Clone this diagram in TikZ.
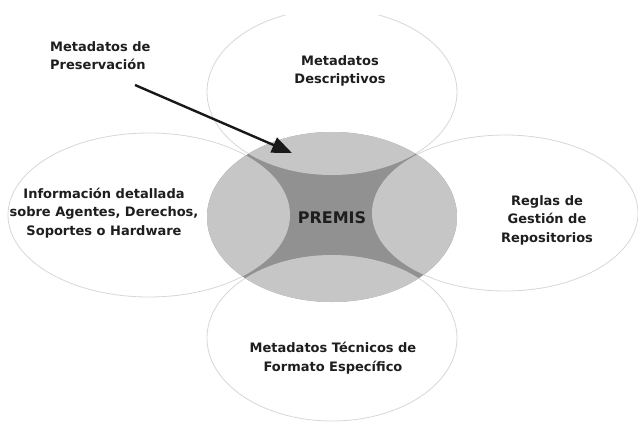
\documentclass[tikz,border=0pt]{standalone}
\usepackage{fontspec}
\setmainfont{DejaVu Sans}
\usetikzlibrary{arrows.meta}
\definecolor{litegray}{RGB}{198,198,198}
\definecolor{darkgray2}{RGB}{145,145,145}
\definecolor{edgegray}{RGB}{215,215,215}
\definecolor{txt}{RGB}{30,30,30}
\tikzset{
  outer/.style={draw=edgegray, line width=0.8pt, fill=white},
  lbl/.style={align=center, font=\bfseries\fontsize{13}{18.5}\selectfont, text=txt, inner sep=0pt},
}
\begin{document}
\begin{tikzpicture}[x=1pt,y=-1pt]
\useasboundingbox (0,0) rectangle (638,421);
\begin{scope}
\clip (0,15) rectangle (638,421);
% outer ellipses
\draw[outer] (332,92) ellipse [x radius=125, y radius=83];
\draw[outer] (332,338) ellipse [x radius=125, y radius=83];
\draw[outer] (149,215) ellipse [x radius=141, y radius=82];
\draw[outer] (505,213) ellipse [x radius=133, y radius=78];
% central
\fill[darkgray2] (332,217) ellipse [x radius=125, y radius=85];
\begin{scope}
\clip (332,217) ellipse [x radius=125, y radius=85];
\fill[litegray] (332,92) ellipse [x radius=125, y radius=83];
\fill[litegray] (332,338) ellipse [x radius=125, y radius=83];
\fill[litegray] (149,215) ellipse [x radius=141, y radius=82];
\fill[litegray] (505,213) ellipse [x radius=133, y radius=78];
\end{scope}
\end{scope}
% labels
\node[lbl] (desc) at (340,71) {Metadatos\\Descriptivos};
\node[lbl] (info) at (104,213) {Información detallada\\sobre Agentes, Derechos,\\Soportes o Hardware};
\node[lbl] (regl) at (547,220) {Reglas de\\Gestión de\\Repositorios};
\node[lbl] (tecn) at (333,358) {Metadatos Técnicos de\\Formato Específico};
\node[lbl, align=left, anchor=north west] (pres) at (50,41) {Metadatos de\\Preservación};
\node[font=\bfseries\fontsize{16}{19}\selectfont, text=txt, inner sep=0pt] (premis) at (332,218) {PREMIS};
\coordinate (tail) at (135,85);
\coordinate (tip) at (292,153);
\draw[line width=2.4pt, color=black!90, -{Triangle[length=20pt, width=16pt]}] (tail) -- (tip);
\end{tikzpicture}
\end{document}
